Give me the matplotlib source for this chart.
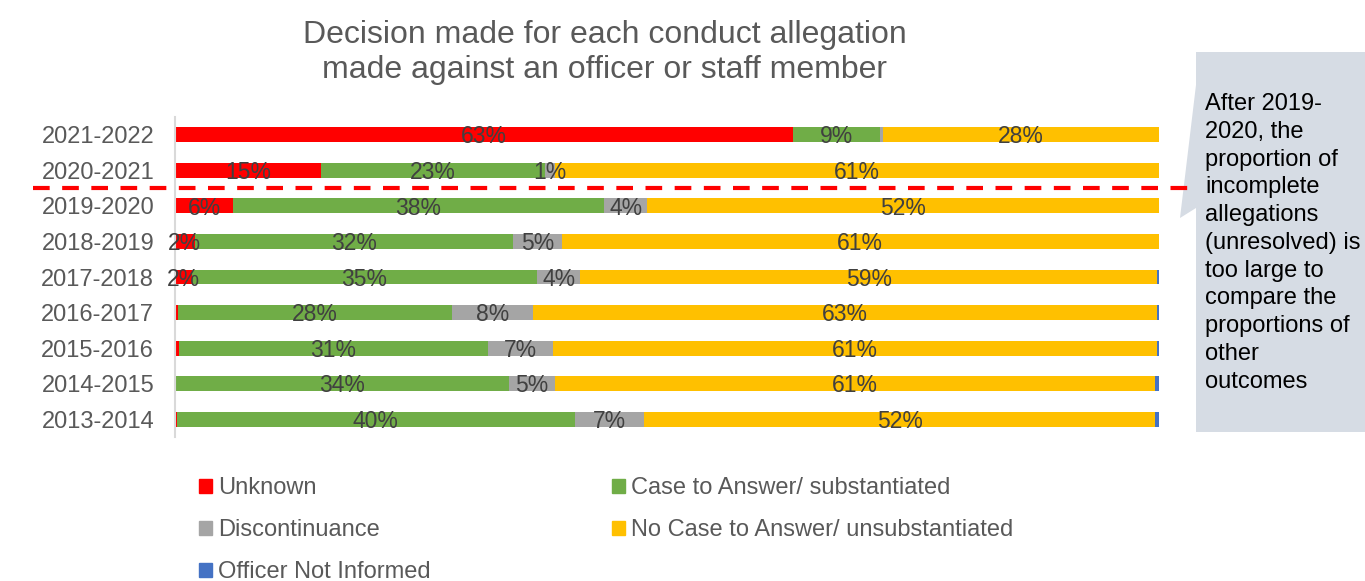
import matplotlib
matplotlib.use("Agg")
import matplotlib.pyplot as plt
from matplotlib.patches import Polygon, Patch
from matplotlib.lines import Line2D
import numpy as np

plt.rcParams['font.family'] = ['Liberation Sans', 'DejaVu Sans']

years = ["2013-2014", "2014-2015", "2015-2016", "2016-2017", "2017-2018",
         "2018-2019", "2019-2020", "2020-2021", "2021-2022"]
unknown      = [0.2, 0.1, 0.4, 0.3, 1.7, 2.0, 5.9, 14.8, 62.8]
case_answer  = [40.4, 33.8, 31.4, 27.8, 35.1, 32.4, 37.7, 22.8, 8.8]
discontinue  = [7.1, 4.7, 6.6, 8.3, 4.4, 4.9, 4.4, 1.0, 0.4]
no_case      = [51.9, 61.0, 61.4, 63.4, 58.6, 60.7, 52.0, 61.4, 28.0]
not_informed = [0.4, 0.4, 0.2, 0.2, 0.2, 0.0, 0.0, 0.0, 0.0]

series_names = ["Unknown", "Case to Answer/ substantiated", "Discontinuance",
                "No Case to Answer/ unsubstantiated", "Officer Not Informed"]
series_vals = [unknown, case_answer, discontinue, no_case, not_informed]
colors = ["#FF0000", "#70AD47", "#A5A5A5", "#FFC000", "#4472C4"]

title = "Decision made for each conduct allegation\nmade against an officer or staff member"
note = ("After 2019-\n2020, the\nproportion of\nincomplete\nallegations\n(unresolved) is\n"
        "too large to\ncompare the\nproportions of\nother\noutcomes")

W, H = 1365, 581
fig = plt.figure(figsize=(W / 100, H / 100), dpi=100)
ax = fig.add_axes([175 / W, 1 - 437 / H, (1159 - 175) / W, (437 - 117) / H])

y = np.arange(len(years))
left = np.zeros(len(years))
for name, vals, c in zip(series_names, series_vals, colors):
    vals = np.array(vals)
    ax.barh(y, vals, left=left, height=0.42, color=c, label=name)
    for yi, l, v in zip(y, left, vals):
        if v >= 0.95 and c != "#4472C4":
            ax.text(l + v / 2, yi - 0.06, f"{v:.0f}%", ha="center", va="center",
                    fontsize=16.5, color="#404040")
    left += vals

ax.set_xlim(0, 100)
ax.set_ylim(-0.5, len(years) - 0.5)
ax.set_yticks(y)
ax.set_yticklabels(years, fontsize=17, color="#595959")
ax.tick_params(axis="y", length=0, pad=15)
ax.set_xticks([])
for s in ["top", "right", "bottom"]:
    ax.spines[s].set_visible(False)
ax.spines["left"].set_color("#D9D9D9")
ax.spines["left"].set_linewidth(1.5)

# dashed separator
fig.add_artist(Line2D([33 / W, 1190 / W], [1 - 188 / H] * 2, transform=fig.transFigure,
                      color="#FF0000", lw=3, linestyle=(0, (4, 3))))

fig.text(605 / W, 1 - 78 / H, title, ha="center", va="baseline", fontsize=23,
         color="#595959", linespacing=1.22, multialignment="center")

# callout
pts = [(1196, 52), (1365, 52), (1365, 432), (1196, 432), (1196, 208),
       (1180, 218), (1196, 85)]
fig.add_artist(Polygon([(px / W, 1 - py / H) for px, py in pts], closed=True,
                       transform=fig.transFigure, facecolor="#D6DCE4", edgecolor="none"))
fig.text(1205 / W, 1 - 93 / H, note, ha="left", va="top", fontsize=17, color="black",
         linespacing=1.34)

handles = [Patch(color=c) for c in colors]
order = [0, 2, 4, 1, 3]
fig.legend([handles[i] for i in order], [series_names[i] for i in order],
           ncol=2, loc="upper left", bbox_to_anchor=(178 / W, 1 - 456 / H),
           frameon=False, fontsize=17, handlelength=0.55, handleheight=0.55,
           handletextpad=0.25, columnspacing=7.67, labelspacing=0.85,
           labelcolor="#595959")

fig.savefig("out.png", dpi=100)
